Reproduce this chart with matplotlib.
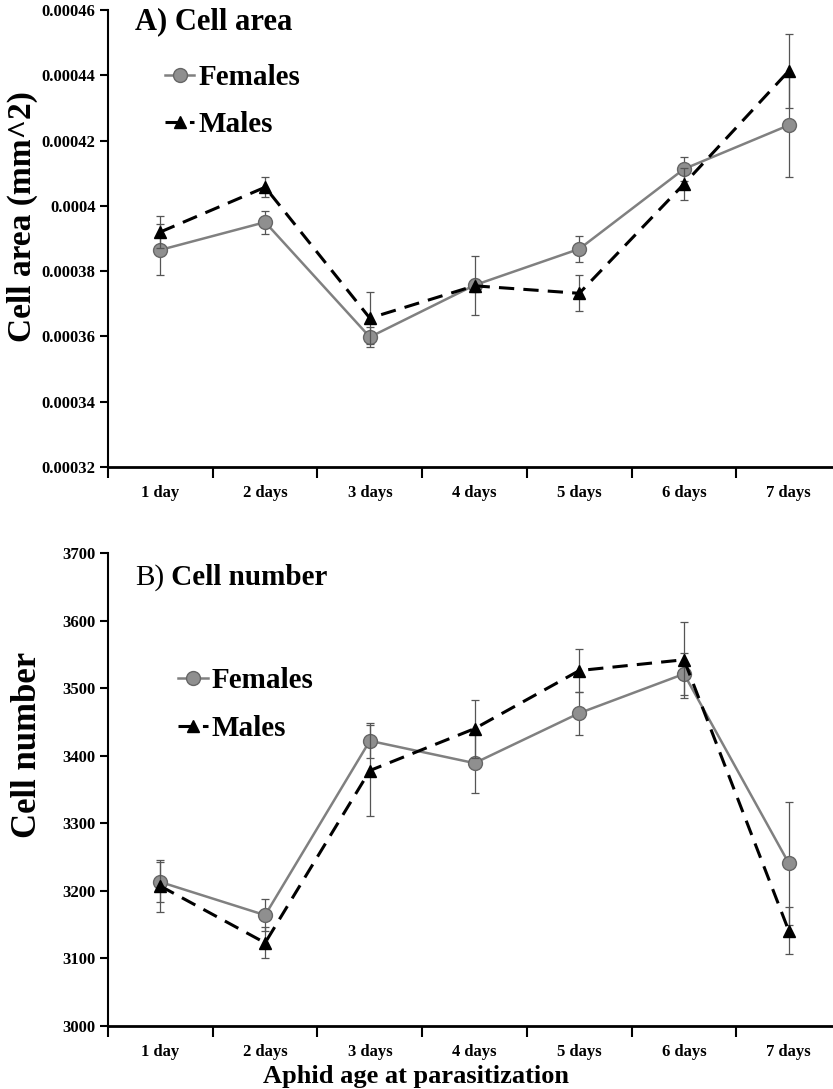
import numpy as np
import matplotlib
matplotlib.use("Agg")
import matplotlib.pyplot as plt
from matplotlib.lines import Line2D

plt.rcParams['font.family'] = ['Liberation Serif', 'DejaVu Serif']

# Data
days = ["1 day", "2 days", "3 days", "4 days", "5 days", "6 days", "7 days"]

area_females = [0.0003865, 0.000395, 0.0003598, 0.0003757, 0.0003868, 0.0004113, 0.0004247]
area_females_se = [0.0000078, 0.0000035, 0.000003, 0.000002, 0.0000039, 0.0000037, 0.000016]
area_males = [0.000392, 0.0004057, 0.0003656, 0.0003755, 0.0003732, 0.0004067, 0.0004413]
area_males_se = [0.0000049, 0.000003, 0.000008, 0.000009, 0.0000055, 0.000005, 0.0000113]

num_females = [3213, 3164, 3422, 3389, 3463, 3521, 3241]
num_females_se = [30, 24, 26, 44, 32, 31, 91]
num_males = [3207, 3123, 3378, 3440, 3526, 3542, 3141]
num_males_se = [38, 23, 68, 43, 32, 56, 35]

fem_line = dict(color='#808080', marker='o', markersize=10, markerfacecolor='#8f8f8f',
                markeredgecolor='#666666', linewidth=1.8)
male_line = dict(color='black', marker='^', markersize=9, linestyle=(0, (5, 3)), linewidth=2.2)
err_style = dict(ecolor='#555555', elinewidth=0.9, capsize=3, capthick=0.9)


def style_axes(ax, ylim, yticks, ylabels):
    ax.set_xlim(0, 7)
    ax.set_ylim(*ylim)
    ax.spines['top'].set_visible(False)
    ax.spines['right'].set_visible(False)
    ax.spines['left'].set_linewidth(1.5)
    ax.spines['bottom'].set_linewidth(2.0)
    ax.set_yticks(yticks)
    ax.set_yticklabels(ylabels, fontsize=12, fontweight='bold')
    ax.tick_params(axis='y', length=6, width=1.5, pad=3)
    # major ticks at category boundaries, labels at centres
    ax.set_xticks(np.arange(0, 8))
    ax.set_xticklabels([])
    ax.tick_params(axis='x', which='major', length=8, width=1.5)
    ax.set_xticks(np.arange(7) + 0.5, minor=True)
    ax.set_xticklabels(days, minor=True, fontsize=12, fontweight='bold')
    ax.tick_params(axis='x', which='minor', length=0, pad=13)


def add_legend(ax, anchor):
    handles = [Line2D([], [], **fem_line), Line2D([], [], **male_line)]
    ax.legend(handles, ['Females', 'Males'], loc='upper left', bbox_to_anchor=anchor,
              frameon=False, handlelength=1.0, handletextpad=0.15, labelspacing=0.7,
              borderpad=0, borderaxespad=0, prop={'weight': 'bold', 'size': 21})


fig = plt.figure(figsize=(8.33, 10.89), dpi=100)
axA = fig.add_axes([0.1297, 0.5712, 0.88, 0.4196])
axB = fig.add_axes([0.1297, 0.0579, 0.88, 0.4343])

x = np.arange(7) + 0.5

# Panel A
axA.errorbar(x, area_females, yerr=area_females_se, zorder=3, **fem_line, **err_style)
axA.errorbar(x, area_males, yerr=area_males_se, zorder=4, **male_line, **err_style)
yA = [0.00032, 0.00034, 0.00036, 0.00038, 0.0004, 0.00042, 0.00044, 0.00046]
style_axes(axA, (0.00032, 0.00046), yA,
           ["0.00032", "0.00034", "0.00036", "0.00038", "0.0004", "0.00042", "0.00044", "0.00046"])
axA.set_ylabel("Cell area (mm^2)", fontsize=24, fontweight='bold')
axA.yaxis.set_label_coords(-0.096, 0.549)
axA.text(0.037, 0.974, "A) Cell area", transform=axA.transAxes, fontsize=22,
         fontweight='bold', va='center', ha='left')
add_legend(axA, (0.078, 0.882))

# Panel B
axB.errorbar(x, num_females, yerr=num_females_se, zorder=3, **fem_line, **err_style)
axB.errorbar(x, num_males, yerr=num_males_se, zorder=4, **male_line, **err_style)
yB = [3000, 3100, 3200, 3300, 3400, 3500, 3600, 3700]
style_axes(axB, (3000, 3700), yB, [str(v) for v in yB])
axB.set_ylabel("Cell number", fontsize=25, fontweight='bold')
axB.yaxis.set_label_coords(-0.087, 0.594)
tb = axB.text(0.037, 0.949, "B)", transform=axB.transAxes, fontsize=21,
              va='center', ha='left')
axB.annotate(" Cell number", xy=(1, 0), xycoords=tb, xytext=(0, 0),
             textcoords='offset points', fontsize=21, fontweight='bold',
             va='bottom', ha='left')
add_legend(axB, (0.096, 0.758))
axB.set_xlabel("Aphid age at parasitization", fontsize=19, fontweight='bold')
axB.xaxis.set_label_coords(0.42, -0.083)

fig.savefig("out.png", dpi=100)
